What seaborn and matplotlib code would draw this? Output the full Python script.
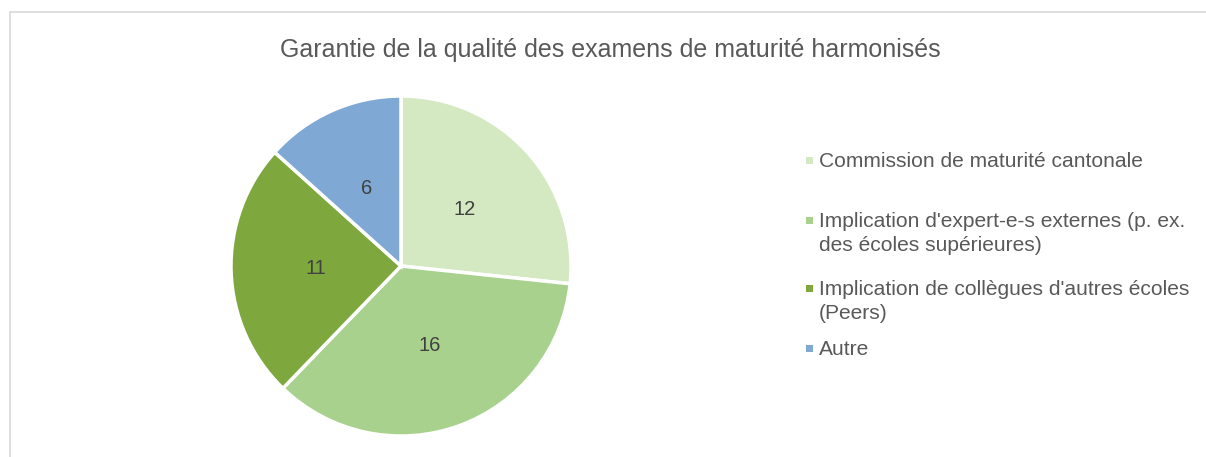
import matplotlib.pyplot as plt
import matplotlib.patches as mpatches
import seaborn as sns
import warnings
warnings.filterwarnings("ignore")

# data
categories = [
    "Commission de maturité cantonale",
    "Implication d'expert-e-s externes (p. ex.\ndes écoles supérieures)",
    "Implication de collègues d'autres écoles\n(Peers)",
    "Autre",
]
values = [12, 16, 11, 6]
colors = ["#d4e9c2", "#a9d18e", "#7ea83e", "#7fa9d4"]
title = "Garantie de la qualité des examens de maturité harmonisés"

sns.set_theme(style="white")
plt.rcParams['font.family'] = ['Liberation Sans', 'DejaVu Sans']

W, H = 1206, 457
fig = plt.figure(figsize=(W / 100, H / 100), dpi=100)

# chart frame (cropped Excel chart area)
frame = mpatches.Rectangle((10 / W, -0.1), 1.2, (H - 12) / H + 0.1,
                           transform=fig.transFigure, fill=False,
                           edgecolor="#d9d9d9", linewidth=1.2)
fig.add_artist(frame)

# pie axes: center (401, 266), radius 170 px
cx, cy, r = 401, 266, 170
ax = fig.add_axes([(cx - r) / W, (H - cy - r) / H, 2 * r / W, 2 * r / H])
palette = sns.color_palette(colors)
wedges, _, autotexts = ax.pie(
    values, colors=palette, startangle=90, counterclock=False,
    autopct=lambda p: f"{round(p * sum(values) / 100):d}", pctdistance=0.5,
    wedgeprops=dict(edgecolor="white", linewidth=2.5),
    textprops=dict(fontsize=14.5, color="#404040"), radius=1.0)
ax.set_xlim(-1, 1)
ax.set_ylim(-1, 1)
ax.set_aspect("equal")

fig.text(610 / W, 1 - 57 / H, title, ha="center", va="baseline",
         fontsize=18, color="#595959")

# legend drawn to match Excel layout (marker aligned with first line)
leg_baseline = [167, 227, 295, 355]
line_step = 24
for lab, col, yb in zip(categories, palette, leg_baseline):
    fig.add_artist(mpatches.Rectangle((806 / W, 1 - (yb - 3) / H), 7 / W, 7 / H,
                                      transform=fig.transFigure, facecolor=col,
                                      edgecolor="none"))
    for k, line in enumerate(lab.split("\n")):
        fig.text(819 / W, 1 - (yb + k * line_step) / H, line, ha="left",
                 va="baseline", fontsize=15.1, color="#595959")

plt.savefig("out.png", dpi=100)
